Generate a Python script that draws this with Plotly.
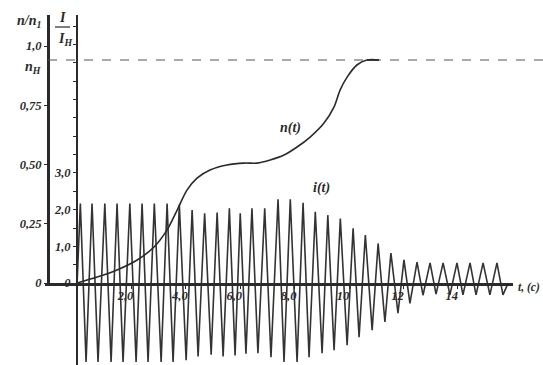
import plotly.graph_objects as go

# ---------------- data ----------------
# speed n/n1 versus time t (s)
n_t = [0, 0.74, 1.47, 2.21, 2.83, 3.31, 3.68, 4.04, 4.41, 4.89, 5.51, 6.14,
       6.62, 7.10, 7.61, 8.09, 8.57, 9.08, 9.45, 9.67, 9.93, 10.29, 10.66, 11.10]
n_v = [0, 0.025, 0.055, 0.097, 0.152, 0.224, 0.308, 0.392, 0.443, 0.477, 0.498, 0.506,
       0.506, 0.519, 0.540, 0.574, 0.616, 0.675, 0.743, 0.814, 0.869, 0.920, 0.941, 0.941]
n_H = 0.941

# current I/I_H : times and values of the positive peaks
peak_t = [0.12, 0.55, 1.02, 1.47, 1.94, 2.39, 2.84, 3.31, 3.76, 4.23, 4.69, 5.15,
          5.60, 6.00, 6.43, 6.90, 7.39, 7.84, 8.31, 8.76, 9.22, 9.68, 10.15, 10.60,
          11.07, 11.54, 12.02, 12.50, 12.98, 13.46, 13.97, 14.45, 14.93, 15.44]
peak_v = [2.17, 2.17, 2.17, 2.17, 2.17, 2.17, 2.17, 2.17, 2.13, 1.99, 1.90, 1.92,
          2.04, 1.90, 2.04, 2.04, 2.28, 2.28, 2.19, 1.94, 1.85, 1.76, 1.49, 1.31,
          1.08, 0.82, 0.63, 0.57, 0.55, 0.55, 0.55, 0.55, 0.55, 0.55]
# times and values of the negative peaks
trough_t = [0.33, 0.77, 1.25, 1.69, 2.17, 2.61, 3.09, 3.53, 4.01, 4.45, 4.93, 5.37,
            5.81, 6.21, 6.65, 7.13, 7.61, 8.09, 8.53, 9.01, 9.45, 9.93, 10.37, 10.85,
            11.32, 11.80, 12.24, 12.72, 13.20, 13.71, 14.19, 14.67, 15.18, 15.66]
trough_v = [-2.15, -2.15, -2.15, -2.15, -2.15, -2.15, -2.15, -2.15, -2.10, -2.00, -1.95, -2.00,
            -1.97, -1.92, -1.91, -2.02, -2.15, -2.15, -2.02, -1.91, -1.83, -1.69, -1.47, -1.28,
            -1.06, -0.82, -0.55, -0.33, -0.30, -0.32, -0.32, -0.32, -0.32, -0.32]
i_start_t, i_end_t = 0.0, 15.85

x_ticks = [2, 4, 6, 8, 10, 12, 14]
x_ticktext = ["2,0", "4,0", "6,0", "8,0", "10", "12", "14"]
n_ticks = [0, 0.25, 0.5, 0.75, 1.0]
n_ticktext = ["0", "0,25", "0,50", "0,75", "1,0"]
i_ticks = [0, 1, 2, 3]
i_ticktext = ["0", "1,0", "2,0", "3,0"]
i_minor_ticks = [0.5, 1.5, 2.5, 3.5, 4.0, 4.5, 5.0, 5.5, 6.0, 6.5, 7.0]

# ---------------- build ----------------
W, H = 543, 365
ink = "#2a2a2a"
FONT = dict(family="Liberation Serif, DejaVu Serif, serif", size=12.5, color=ink,
            weight="bold", style="italic")

ext = sorted(list(zip(peak_t, peak_v)) + list(zip(trough_t, trough_v)))
i_x = [i_start_t] + [e[0] for e in ext] + [i_end_t]
i_y = [0.0] + [e[1] for e in ext] + [0.0]

fig = go.Figure()
fig.add_trace(go.Scatter(x=i_x, y=i_y, mode="lines", xaxis="x", yaxis="y",
                         line=dict(color="#333333", width=1.6), hoverinfo="skip",
                         showlegend=False))
fig.add_trace(go.Scatter(x=n_t, y=n_v, mode="lines", xaxis="x", yaxis="y2",
                         line=dict(color=ink, width=1.6, shape="spline", smoothing=0.8),
                         hoverinfo="skip", showlegend=False))


def px(x):
    return x / W


def py(y):
    return 1 - y / H


fig.update_layout(
    width=W, height=H,
    margin=dict(l=0, r=0, t=0, b=0, pad=0, autoexpand=False),
    paper_bgcolor="white", plot_bgcolor="rgba(0,0,0,0)",
    xaxis=dict(domain=[px(45), px(513)], range=[-1.18, 16.03], anchor="y2",
               showgrid=False, zeroline=False, showline=True, linecolor=ink, linewidth=3,
               tickvals=x_ticks, ticktext=x_ticktext, ticks="outside", ticklen=3,
               tickcolor=ink, tickfont=FONT, ticklabelshift=-6, ticklabelstandoff=-4,
               automargin=False),
    yaxis=dict(domain=[0, py(15)], range=[-2.23, 7.30], anchor="free", position=px(77),
               showgrid=False, zeroline=False, showline=True, linecolor=ink, linewidth=2,
               tickvals=i_ticks, ticktext=i_ticktext,
               ticks="outside", ticklen=3, tickcolor=ink, tickfont=FONT, automargin=False,
               minor=dict(tickmode="array", tickvals=i_minor_ticks, ticks="outside",
                          ticklen=3, tickcolor=ink, showgrid=False)),
    yaxis2=dict(domain=[py(283), py(15)], range=[0, 1.131], anchor="free", position=px(48),
                showgrid=False, zeroline=False, showline=True, linecolor=ink, linewidth=3,
                tickvals=n_ticks, ticktext=n_ticktext, ticks="outside", ticklen=3,
                tickcolor=ink, tickfont=FONT, automargin=False),
)

# dashed nominal-speed line
fig.add_shape(type="line", xref="paper", yref="y2", x0=px(48), x1=n_t[-2],
              y0=n_H, y1=n_H, line=dict(color="#555555", width=1.2, dash="dash"))
fig.add_shape(type="line", xref="x", yref="y2", x0=n_t[-2], x1=n_t[-1],
              y0=n_H, y1=n_H, line=dict(color=ink, width=1.6))

BIG = dict(FONT, size=14)
ann = [
    dict(x=px(29), y=py(22), xref="paper", yref="paper", text="n/n<sub>1</sub>", font=BIG),
    dict(x=px(62), y=py(17), xref="paper", yref="paper", text="I", font=BIG),
    dict(x=px(65), y=py(39), xref="paper", yref="paper", text="I<sub>H</sub>", font=BIG),
    dict(x=px(33), y=py(67), xref="paper", yref="paper", text="n<sub>H</sub>",
         font=dict(FONT, size=14)),
    dict(x=7.83, y=0.654, xref="x", yref="y2", text="n(t)", font=BIG),
    dict(x=8.97, y=2.59, xref="x", yref="y", text="i(t)", font=BIG),
    dict(x=px(516), y=py(287), xref="paper", yref="paper", text="t, (c)",
         font=dict(FONT, size=11.5), xanchor="left"),
]
for a in ann:
    a.setdefault("xanchor", "center")
    fig.add_annotation(showarrow=False, yanchor="middle", **a)
fig.add_shape(type="line", xref="paper", yref="paper", x0=px(55), x1=px(70),
              y0=py(27), y1=py(27), line=dict(color=ink, width=1.2))

fig.write_html("out.html")
